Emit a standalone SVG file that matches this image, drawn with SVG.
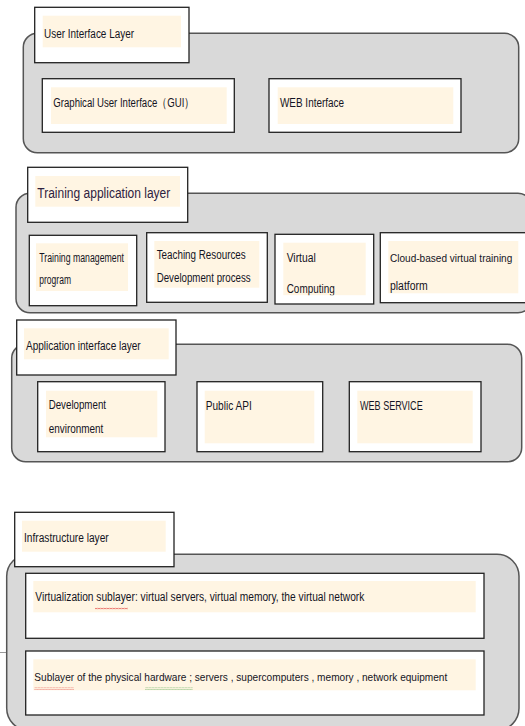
<svg xmlns="http://www.w3.org/2000/svg" width="525" height="726" viewBox="0 0 525 726">
<defs>
<style>
.layer{fill:#d9d9d9;stroke:#555;stroke-width:1.5}
.box{fill:#fff;stroke:#222;stroke-width:1.3}
.cream{fill:#fff5e3;stroke:none}
text{font-family:"Liberation Sans",Arial,sans-serif;font-size:12.5px;fill:#141424}
.big{font-size:15.5px;fill:#2e2240}
.sm{font-size:11px}
</style>
<pattern id="wavyRed" width="3" height="2.4" patternUnits="userSpaceOnUse">
<polyline points="0,1.8 1.5,0.6 3,1.8" fill="none" stroke="#e03030" stroke-width="0.8"/>
</pattern>
<pattern id="wavyGreen" width="3" height="2.4" patternUnits="userSpaceOnUse">
<polyline points="0,1.8 1.5,0.6 3,1.8" fill="none" stroke="#3a9a3a" stroke-width="0.8"/>
</pattern>
<clipPath id="clipVirt"><rect x="283.3" y="242.7" width="82.4" height="52.5"/></clipPath>
</defs>

<g id="connectors"><line x1="0" y1="652.5" x2="7" y2="652.5" stroke="#999" stroke-width="1"/></g>

<!-- Layer 1 -->
<g id="user-interface-layer">
<rect class="layer" x="23.3" y="33.3" width="495.4" height="119.4" rx="14"/>
<rect class="box" x="34.7" y="7.3" width="154.3" height="55.4"/>
<rect class="cream" x="42.7" y="15.7" width="138.3" height="31.6"/>
<text x="44" y="38.3" textLength="90" lengthAdjust="spacingAndGlyphs">User Interface Layer</text>
</g>
<g id="gui">
<rect class="box" x="42.3" y="78.7" width="192" height="53.6"/>
<rect class="cream" x="51" y="87.3" width="175.7" height="36.7"/>
<text x="53.3" y="107" textLength="141" lengthAdjust="spacingAndGlyphs">Graphical User Interface（GUI）</text>
</g>
<g id="web-interface">
<rect class="box" x="269" y="78.7" width="192" height="53.6"/>
<rect class="cream" x="277.7" y="87.3" width="175.6" height="36.7"/>
<text x="280" y="107" textLength="64" lengthAdjust="spacingAndGlyphs">WEB Interface</text>
</g>

<!-- Layer 2 -->
<g id="training-application-layer">
<rect class="layer" x="16" y="193.3" width="516" height="119.4" rx="14"/>
<rect class="box" x="27.7" y="167.3" width="160" height="55"/>
<rect class="cream" x="35.3" y="176" width="144.7" height="30.7"/>
<text class="big" x="37.3" y="198" textLength="133" lengthAdjust="spacingAndGlyphs">Training application layer</text>
</g>
<g id="training-management">
<rect class="box" x="29.3" y="235.3" width="107.4" height="70.4"/>
<rect class="cream" x="36" y="243.3" width="92" height="47.7"/>
<text x="39.3" y="262" textLength="84.7" lengthAdjust="spacingAndGlyphs">Training management</text>
<text x="39.3" y="283.5" textLength="31.7" lengthAdjust="spacingAndGlyphs">program</text>
</g>
<g id="teaching-resources">
<rect class="box" x="146.7" y="232.7" width="120.6" height="69.6"/>
<rect class="cream" x="154.3" y="241" width="105" height="46.7"/>
<text x="156.7" y="258.5" textLength="89" lengthAdjust="spacingAndGlyphs">Teaching Resources</text>
<text x="156.7" y="282" textLength="94" lengthAdjust="spacingAndGlyphs">Development process</text>
</g>
<g id="virtual-computing">
<rect class="box" x="275" y="234.3" width="98.7" height="69.7"/>
<rect class="cream" x="283.3" y="242.7" width="82.4" height="52.5"/>
<g clip-path="url(#clipVirt)">
<text x="286.7" y="262" textLength="29" lengthAdjust="spacingAndGlyphs">Virtual</text>
<text x="286.7" y="293" textLength="48" lengthAdjust="spacingAndGlyphs">Computing</text>
</g>
</g>
<g id="cloud-platform">
<rect class="box" x="380.3" y="232.7" width="160" height="70"/>
<rect class="cream" x="388.3" y="241" width="130" height="52.3"/>
<text class="sm" x="390" y="262" textLength="122.3" lengthAdjust="spacingAndGlyphs" style="font-size:10.5px">Cloud-based virtual training</text>
<text x="390" y="290" textLength="37.7" lengthAdjust="spacingAndGlyphs">platform</text>
</g>

<!-- Layer 3 -->
<g id="application-interface-layer">
<rect class="layer" x="11.7" y="344.3" width="510" height="117.4" rx="14"/>
<rect class="box" x="16.7" y="320" width="159.3" height="55"/>
<rect class="cream" x="24" y="328.3" width="144.7" height="31"/>
<text x="26" y="350" textLength="114.7" lengthAdjust="spacingAndGlyphs">Application interface layer</text>
</g>
<g id="development-environment">
<rect class="box" x="37.7" y="381.7" width="127.3" height="70"/>
<rect class="cream" x="46" y="390.7" width="111.3" height="46.6"/>
<text x="48.7" y="409" textLength="57.3" lengthAdjust="spacingAndGlyphs">Development</text>
<text x="48.7" y="432.5" textLength="54.7" lengthAdjust="spacingAndGlyphs">environment</text>
</g>
<g id="public-api">
<rect class="box" x="197" y="381.7" width="125.7" height="70"/>
<rect class="cream" x="204.7" y="390.7" width="109.6" height="52.6"/>
<text x="205.7" y="410" textLength="46" lengthAdjust="spacingAndGlyphs">Public API</text>
</g>
<g id="web-service">
<rect class="box" x="349.3" y="381.7" width="131.7" height="70"/>
<rect class="cream" x="357.3" y="390.7" width="115.4" height="52.6"/>
<text x="360" y="410" textLength="62.7" lengthAdjust="spacingAndGlyphs">WEB SERVICE</text>
</g>

<!-- Layer 4 -->
<g id="infrastructure-layer">
<rect class="layer" x="6.7" y="554.3" width="512.3" height="176" rx="22"/>
<rect class="box" x="14.7" y="512.3" width="159.3" height="54.4"/>
<rect class="cream" x="22" y="520.7" width="143.7" height="31"/>
<text x="24" y="541.5" textLength="84.7" lengthAdjust="spacingAndGlyphs">Infrastructure layer</text>
</g>
<g id="virtualization-sublayer">
<rect class="box" x="25.7" y="573.3" width="458.3" height="65"/>
<rect class="cream" x="33.3" y="581" width="442.4" height="31.3"/>
<text x="35.3" y="601" textLength="329" lengthAdjust="spacingAndGlyphs">Virtualization sublayer: virtual servers, virtual memory, the virtual network</text>
<rect x="95" y="607.6" width="33" height="2.4" fill="url(#wavyRed)"/>
</g>
<g id="physical-hardware-sublayer">
<rect class="box" x="25.7" y="651" width="458.3" height="64"/>
<rect class="cream" x="33.3" y="659.3" width="442.4" height="31"/>
<text x="34.3" y="681" textLength="413" lengthAdjust="spacingAndGlyphs" style="font-size:11.5px">Sublayer of the physical hardware ; servers , supercomputers , memory , network equipment</text>
<rect x="34.3" y="687.6" width="39.7" height="2.4" fill="url(#wavyRed)"/>
<rect x="145" y="687.6" width="47.7" height="2.4" fill="url(#wavyGreen)"/>
</g>
</svg>
